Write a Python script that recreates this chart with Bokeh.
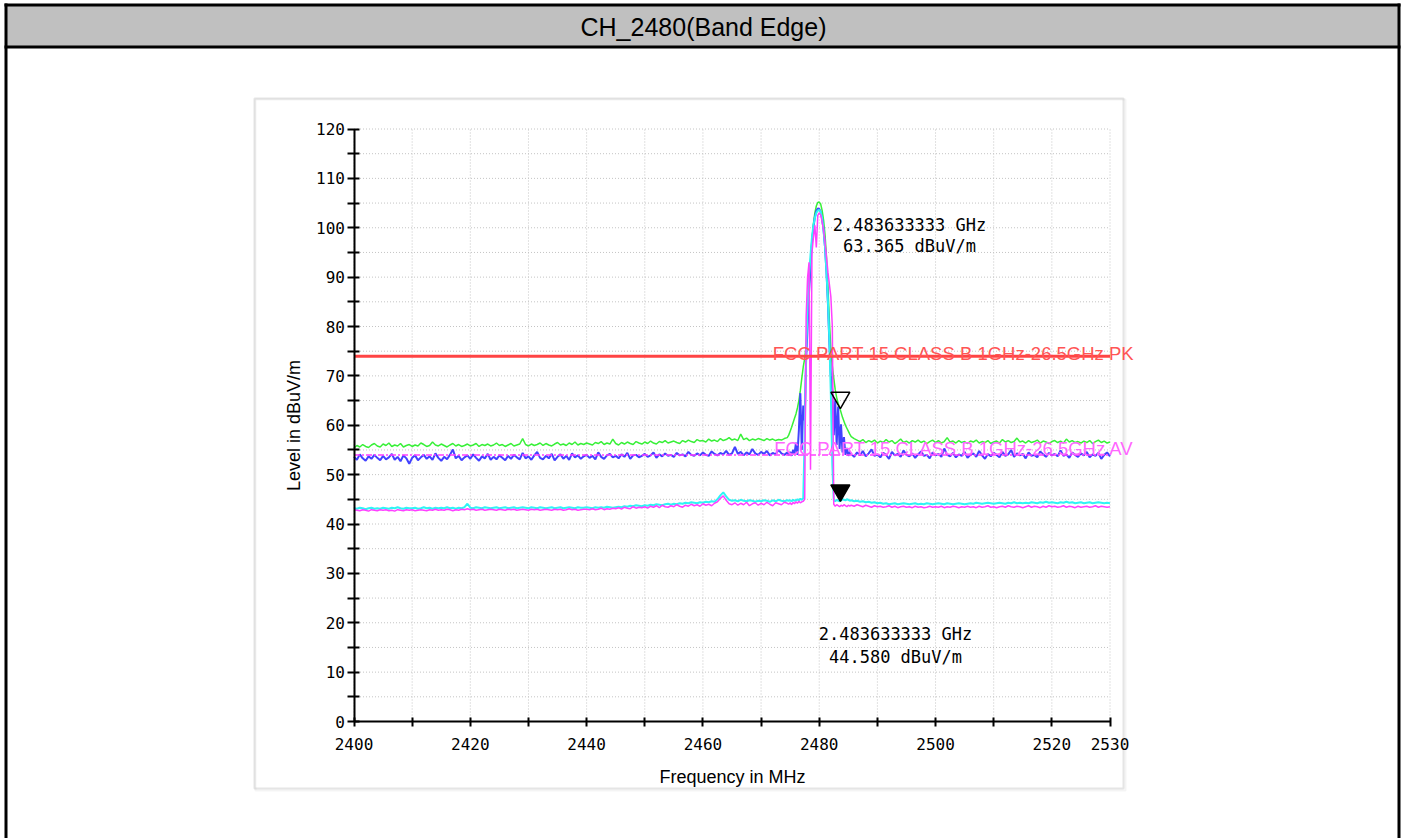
import numpy as np
from bokeh.plotting import figure
from bokeh.models import Range1d, FixedTicker, BoxAnnotation, Label
from bokeh.embed import file_html
from bokeh.resources import INLINE

# ---------------- data ----------------
TITLE = "CH_2480(Band Edge)"
X_LABEL = "Frequency in MHz"
Y_LABEL = "Level in dBuV/m"
X_MIN, X_MAX = 2400, 2530
Y_MIN, Y_MAX = 0, 120
X_TICKS = [2400, 2410, 2420, 2430, 2440, 2450, 2460, 2470, 2480, 2490, 2500, 2510, 2520, 2530]
X_TICK_LABELS = [2400, 2420, 2440, 2460, 2480, 2500, 2520, 2530]
Y_TICKS = [0, 10, 20, 30, 40, 50, 60, 70, 80, 90, 100, 110, 120]
Y_MINOR = [5, 15, 25, 35, 45, 55, 65, 75, 85, 95, 105, 115]

# frequency grids (MHz)
F_LO = 2400.0 + 0.5 * np.arange(150)      # 2400.0 .. 2474.5
F_PK = 2474.75 + 0.25 * np.arange(43)     # 2474.75 .. 2485.25
F_HI = 2485.5 + 0.5 * np.arange(90)       # 2485.5 .. 2530.0

GREEN_LO = [
    55.4, 55.9, 55.6, 56.1, 55.7, 55.5, 56.0, 56.3, 55.8, 55.6,
    56.2, 55.9, 56.4, 55.7, 56.0, 55.8, 56.3, 55.6, 55.9, 56.1,
    55.7, 56.0, 55.8, 56.4, 56.1, 55.7, 55.9, 56.6, 56.0, 55.8,
    56.2, 55.9, 55.6, 56.0, 56.3, 55.8, 56.1, 55.7, 55.9, 56.2,
    55.8, 56.0, 56.3, 55.7, 56.1, 55.9, 56.2, 55.8, 56.0, 56.4,
    55.9, 56.1, 55.7, 56.0, 56.3, 55.8, 56.0, 56.2, 57.3, 56.1,
    55.8, 56.2, 55.9, 56.1, 56.4, 55.9, 56.3, 56.0, 55.8, 56.2,
    56.5, 56.0, 56.2, 55.9, 56.4, 56.1, 56.6, 56.0, 56.3, 56.1,
    56.4, 56.2, 56.0, 56.5, 56.3, 56.7, 56.1, 56.4, 56.2, 57.2,
    56.3, 56.0, 56.5, 56.2, 56.6, 56.3, 56.1, 56.7, 56.4, 56.2,
    56.6, 56.3, 56.8, 56.4, 56.2, 56.7, 56.5, 56.9, 56.4, 56.6,
    56.8, 56.5, 56.3, 56.9, 56.6, 57.0, 56.7, 56.5, 57.1, 56.8,
    56.9, 56.6, 57.2, 56.8, 57.0, 56.7, 57.3, 56.9, 57.1, 57.5,
    57.0, 57.2, 56.9, 58.2, 57.1, 57.4, 56.9, 57.2, 57.0, 57.3,
    57.1, 56.9, 57.3, 57.0, 57.2, 56.9, 57.1, 57.0, 57.3, 57.5,
]
GREEN_PK = [
    58.0, 58.8, 59.6, 60.5, 61.4, 62.3, 63.5, 65.0, 67.0, 69.5,
    71.8, 73.5, 76.0, 82.0, 88.0, 93.0, 97.5, 100.8, 103.0, 104.4,
    105.1, 105.2, 104.8, 103.5, 101.5, 98.5, 94.0, 88.0, 81.0, 75.5,
    72.0, 69.5, 67.2, 65.6, 64.4, 63.6, 62.6, 61.6, 60.8, 60.0,
    59.4, 58.8, 58.2,
]
GREEN_HI = [
    57.7, 57.3, 57.0, 56.7, 57.1, 56.5, 56.9, 56.6, 57.0, 56.4,
    56.8, 56.5, 57.1, 56.6, 56.9, 56.3, 56.7, 57.2, 56.5, 56.8,
    56.4, 56.9, 56.6, 57.0, 56.5, 56.8, 56.3, 56.7, 57.0, 56.5,
    56.9, 56.4, 56.7, 57.5, 56.6, 56.8, 56.4, 56.9, 56.5, 56.7,
    56.3, 56.8, 56.6, 57.0, 56.4, 56.7, 56.5, 56.9, 56.3, 56.6,
    56.8, 56.4, 57.1, 56.6, 56.9, 56.5, 56.7, 57.4, 56.6, 56.8,
    56.4, 56.9, 56.5, 56.7, 57.0, 56.4, 56.8, 56.6, 56.3, 56.7,
    56.9, 56.5, 56.8, 56.4, 57.2, 56.6, 56.9, 56.5, 56.7, 56.4,
    56.8, 56.5, 56.9, 56.3, 56.7, 57.0, 56.5, 56.8, 56.4, 56.6,
]

BLUE_LO = [
    53.6, 53.0, 54.1, 53.3, 52.8, 53.7, 53.2, 54.0, 53.4, 52.9,
    53.8, 53.1, 53.5, 54.2, 53.0, 53.6, 52.7, 53.9, 53.3, 52.2,
    53.4, 53.9, 52.9, 53.5, 54.0, 53.2, 53.7, 53.0, 54.3, 53.4,
    52.8, 53.6, 53.1, 54.0, 55.1, 53.3, 53.8, 52.9, 53.5, 53.9,
    53.2, 54.1, 53.4, 52.8, 53.7, 53.3, 54.2, 53.0, 53.6, 53.1,
    53.9, 53.4, 52.9, 53.8, 53.2, 54.0, 53.5, 53.1, 54.4, 53.3,
    53.7, 53.0, 53.9, 54.6, 53.4, 53.1, 53.8, 53.3, 54.2, 52.9,
    53.6, 54.1, 53.2, 53.8, 53.0, 54.3, 53.5, 53.9, 53.2, 53.7,
    54.0, 53.4, 53.8, 53.1, 54.5, 53.6, 53.2, 53.9, 54.2, 53.5,
    53.8, 53.3, 54.1, 53.6, 54.4, 53.2, 53.9, 54.0, 53.5, 53.8,
    54.2, 53.6, 53.9, 54.5, 53.4, 54.1, 53.7, 54.3, 53.8, 54.0,
    53.6, 54.4, 53.9, 54.1, 53.7, 54.6, 54.0, 53.8, 54.3, 53.9,
    54.5, 54.0, 53.8, 54.7, 54.2, 53.9, 54.4, 54.1, 54.8, 54.0,
    54.3, 55.6, 54.2, 54.6, 53.9, 54.5, 54.1, 55.2, 54.3, 54.0,
    54.6, 54.2, 54.8, 53.9, 54.4, 54.1, 55.0, 54.3, 54.0, 54.5,
]
BLUE_PK = [
    53.9, 54.6, 53.8, 55.0, 54.2, 56.5, 54.0, 59.0, 66.5, 55.0,
    64.0, 61.0, 73.5, 80.0, 87.0, 92.5, 97.0, 100.0, 102.2, 103.4,
    103.9, 103.8, 103.2, 101.8, 99.5, 96.0, 91.0, 84.5, 76.5, 70.0,
    67.0, 58.0, 65.0, 56.0, 63.8, 55.2, 60.2, 54.5, 57.6, 54.0,
    55.4, 53.8, 54.6,
]
BLUE_HI = [
    54.2, 53.6, 54.5, 53.9, 54.8, 53.7, 54.3, 55.1, 53.8, 54.1,
    53.5, 54.4, 54.0, 53.2, 54.6, 53.9, 54.2, 53.6, 54.9, 54.0,
    53.7, 54.3, 53.4, 54.1, 54.7, 53.8, 54.0, 53.3, 54.5, 53.9,
    54.2, 53.6, 55.3, 54.0, 53.7, 54.4, 53.5, 54.1, 53.8, 54.6,
    53.4, 54.0, 54.3, 53.6, 54.8, 53.9, 53.2, 54.2, 53.7, 54.4,
    54.0, 53.5, 54.6, 53.8, 54.1, 55.0, 53.6, 54.3, 53.9, 54.2,
    53.3, 54.5, 53.8, 54.0, 53.5, 54.7, 54.1, 53.6, 54.4, 53.9,
    54.2, 53.7, 54.9, 53.8, 54.1, 53.4, 54.5, 54.0, 53.6, 54.3,
    53.9, 54.6, 53.5, 54.1, 53.8, 54.4, 53.2, 54.0, 54.5, 53.7,
]

CYAN_LO = [
    43.2, 43.1, 43.3, 43.2, 43.0, 43.2, 43.3, 43.1, 43.2, 43.1,
    43.3, 43.2, 43.1, 43.3, 43.2, 43.4, 43.2, 43.1, 43.3, 43.2,
    43.2, 43.3, 43.1, 43.2, 43.4, 43.2, 43.3, 43.1, 43.3, 43.2,
    43.3, 43.2, 43.4, 43.2, 43.3, 43.1, 43.3, 43.2, 43.4, 44.1,
    43.3, 43.2, 43.4, 43.3, 43.2, 43.4, 43.3, 43.2, 43.3, 43.4,
    43.2, 43.3, 43.4, 43.2, 43.3, 43.4, 43.2, 43.3, 43.4, 43.3,
    43.2, 43.4, 43.3, 43.2, 43.4, 43.3, 43.2, 43.3, 43.4, 43.2,
    43.3, 43.4, 43.2, 43.3, 43.4, 43.3, 43.2, 43.4, 43.3, 43.3,
    43.4, 43.3, 43.2, 43.4, 43.3, 43.4, 43.3, 43.5, 43.4, 43.3,
    43.4, 43.5, 43.4, 43.6, 43.5, 43.7, 43.6, 43.8, 43.7, 43.6,
    43.8, 43.7, 43.9, 43.8, 44.0, 43.9, 43.8, 44.0, 44.1, 43.9,
    44.1, 44.0, 44.2, 44.1, 44.3, 44.2, 44.4, 44.3, 44.2, 44.4,
    44.3, 44.5, 44.4, 44.6, 44.5, 45.0, 45.8, 46.4, 45.6, 44.9,
    44.7, 44.8, 44.6, 44.9, 44.7, 44.6, 44.8, 44.7, 44.5, 44.7,
    44.6, 44.8, 44.7, 44.5, 44.8, 44.6, 44.9, 44.7, 44.6, 44.8,
]
CYAN_PK = [
    44.7, 44.8, 44.6, 44.9, 44.7, 44.8, 45.0, 44.8, 45.1, 44.9,
    45.2, 58.0, 75.0, 84.0, 90.0, 94.5, 98.0, 100.5, 102.0, 103.0,
    103.5, 103.6, 103.2, 102.0, 99.5, 96.0, 91.0, 85.0, 77.0, 66.0,
    52.0, 44.8, 44.6, 44.9, 44.7, 44.6, 44.8, 45.0, 44.9, 44.8,
    45.0, 44.9, 44.7,
]
CYAN_HI = [
    44.8, 44.6, 44.7, 44.5, 44.6, 44.4, 44.5, 44.3, 44.4, 44.2,
    44.3, 44.1, 44.2, 44.0, 44.1, 44.2, 44.0, 44.1, 44.2, 44.1,
    44.0, 44.1, 44.2, 44.0, 44.1, 44.0, 44.2, 44.1, 44.0, 44.1,
    44.2, 44.1, 44.0, 44.2, 44.1, 44.0, 44.1, 44.2, 44.1, 44.0,
    44.1, 44.2, 44.1, 44.3, 44.2, 44.1, 44.2, 44.3, 44.2, 44.1,
    44.2, 44.3, 44.2, 44.1, 44.3, 44.2, 44.4, 44.2, 44.3, 44.2,
    44.3, 44.2, 44.4, 44.3, 44.2, 44.4, 44.3, 44.5, 44.3, 44.4,
    44.3, 44.2, 44.4, 44.3, 44.5, 44.3, 44.4, 44.2, 44.3, 44.4,
    44.2, 44.3, 44.4, 44.2, 44.3, 44.4, 44.3, 44.2, 44.3, 44.2,
]

MAGENTA_LO = [
    42.9, 42.8, 42.7, 42.9, 42.8, 42.6, 42.9, 42.8, 42.7, 42.9,
    42.8, 42.9, 42.7, 42.8, 42.6, 42.9, 42.8, 42.7, 42.9, 42.8,
    42.9, 42.7, 42.8, 42.9, 42.8, 42.7, 42.9, 42.8, 43.0, 42.8,
    42.9, 42.8, 43.0, 42.9, 42.7, 42.9, 42.8, 43.0, 42.9, 43.1,
    42.9, 43.0, 42.8, 42.9, 43.0, 42.8, 42.9, 43.0, 42.9, 42.8,
    43.0, 42.9, 42.8, 43.0, 42.9, 43.0, 42.8, 42.9, 43.0, 42.9,
    42.8, 43.0, 42.9, 43.0, 42.8, 42.9, 43.0, 42.9, 42.8, 43.0,
    42.9, 43.0, 42.8, 42.9, 43.1, 42.9, 43.0, 42.8, 42.9, 43.0,
    43.0, 42.9, 43.1, 42.9, 43.0, 43.2, 42.9, 43.1, 43.0, 43.2,
    43.1, 43.3, 43.0, 43.4, 43.2, 43.1, 43.5, 43.2, 43.4, 43.3,
    43.5, 43.2, 43.6, 43.4, 43.7, 43.3, 43.8, 43.5, 43.4, 43.7,
    43.5, 43.9, 43.6, 43.4, 43.8, 43.6, 44.0, 43.7, 43.9, 43.6,
    44.1, 43.8, 44.0, 43.7, 44.2, 44.5, 45.2, 45.7, 44.8, 44.1,
    43.9, 44.3, 43.8, 44.2, 43.9, 44.4, 43.7, 44.1, 44.3, 43.8,
    44.2, 43.9, 44.4, 44.0, 43.7, 44.3, 44.1, 43.9, 44.4, 44.2,
]
MAGENTA_PK = [
    44.0, 44.3, 43.9, 44.4, 44.1, 44.5, 44.2, 44.6, 44.3, 44.5,
    44.6, 45.0, 82.0, 90.0, 93.0, 51.0, 95.0, 98.0, 100.5, 96.0,
    102.5, 103.0, 102.6, 101.2, 99.5, 97.0, 94.0, 91.0, 88.5, 86.0,
    80.0, 44.0, 43.6, 43.9, 43.7, 43.5, 43.8, 43.6, 43.9, 43.7,
    43.5, 43.8, 43.6,
]
MAGENTA_HI = [
    43.8, 43.6, 43.9, 43.7, 43.5, 43.8, 43.6, 43.4, 43.7, 43.5,
    43.6, 43.4, 43.5, 43.7, 43.4, 43.6, 43.3, 43.5, 43.6, 43.4,
    43.5, 43.3, 43.6, 43.4, 43.5, 43.3, 43.4, 43.6, 43.4, 43.5,
    43.4, 43.6, 43.3, 43.5, 43.4, 43.6, 43.5, 43.3, 43.5, 43.4,
    43.6, 43.4, 43.5, 43.3, 43.6, 43.4, 43.5, 43.7, 43.4, 43.5,
    43.3, 43.5, 43.6, 43.4, 43.7, 43.5, 43.4, 43.6, 43.5, 43.3,
    43.5, 43.7, 43.4, 43.6, 43.5, 43.3, 43.6, 43.4, 43.7, 43.5,
    43.6, 43.4, 43.5, 43.7, 43.4, 43.6, 43.5, 43.3, 43.6, 43.4,
    43.5, 43.6, 43.4, 43.5, 43.7, 43.4, 43.6, 43.5, 43.4, 43.5,
]

LIMIT_PK = 74.0
LIMIT_AV = 54.0
LIMIT_PK_LABEL = "FCC PART 15 CLASS B 1GHz-26.5GHz PK"
LIMIT_AV_LABEL = "FCC PART 15 CLASS B 1GHz-26.5GHz AV"

MARKER_FREQ = [2483.633333, 2483.633333]
MARKER_LEVEL = [63.365, 44.580]
MARKER_TEXT = [("2.483633333 GHz", "63.365 dBuV/m"), ("2.483633333 GHz", "44.580 dBuV/m")]

# ---------------- layout (canvas pixels) ----------------
W, H = 1403, 838
PX_X0, PX_X1 = 353.5, 1109.5     # where X_MIN / X_MAX sit
PX_Y0, PX_Y1 = 721.0, 128.5      # where Y_MIN / Y_MAX sit
ppx = (PX_X1 - PX_X0) / (X_MAX - X_MIN)
ppy = (PX_Y0 - PX_Y1) / (Y_MAX - Y_MIN)
xr = Range1d(X_MIN - PX_X0 / ppx, X_MAX + (W - PX_X1) / ppx)
yr = Range1d(Y_MIN - (H - PX_Y0) / ppy, Y_MAX + PX_Y1 / ppy)

p = figure(width=W, height=H, x_range=xr, y_range=yr,
           min_border=0, min_border_left=0, min_border_right=0,
           min_border_top=0, min_border_bottom=0,
           output_backend="svg", toolbar_location=None, title=None)
p.outline_line_color = None
p.background_fill_color = "white"
p.border_fill_color = "white"
p.xgrid.visible = False
p.ygrid.visible = False

MONO = "DejaVu Sans Mono"
SANS = "Liberation Sans"


def canvas_box(l, r, t, b, **kw):
    return BoxAnnotation(left=l, right=r, top=t, bottom=b,
                         left_units="canvas", right_units="canvas",
                         top_units="canvas", bottom_units="canvas", **kw)


# decorations: chart panel, title bar, outer frame
p.add_layout(canvas_box(255, 1125, 99, 790, fill_color=None, fill_alpha=0,
                        line_color="#DADADA", line_width=2, level="underlay"))
p.add_layout(canvas_box(254, 1123, 98, 788, fill_color=None, fill_alpha=0,
                        line_color="#A8A8A8", line_width=2, level="underlay"))
p.add_layout(canvas_box(6, 1398, 5, 47, fill_color="#C0C0C0", fill_alpha=1,
                        line_color=None, level="underlay"))
for (l, r, t, b) in [(4, 1400, 3, 6), (4, 1400, 45, 48), (4, 7, 3, H), (1397, 1400, 3, H)]:
    p.add_layout(canvas_box(l, r, t, b, fill_color="black", fill_alpha=1, line_color=None))
p.add_layout(Label(x=703, y=26, x_units="canvas", y_units="canvas", text=TITLE,
                   text_align="center", text_baseline="middle",
                   text_font=SANS, text_font_size="25px", text_color="black"))

# grid (dotted) at the tick positions, inside the chart area only
p.segment(x0=X_TICKS, y0=[Y_MIN] * len(X_TICKS), x1=X_TICKS, y1=[Y_MAX] * len(X_TICKS),
          line_color="#C4C4C4", line_width=1, line_dash="1 2")
YG = Y_TICKS + Y_MINOR
p.segment(x0=[X_MIN] * len(YG), y0=YG, x1=[X_MAX] * len(YG), y1=YG,
          line_color="#C4C4C4", line_width=1, line_dash="1 2")

# axes, fixed at the chart's origin
xa = p.xaxis[0]
ya = p.yaxis[0]
xa.fixed_location = Y_MIN
ya.fixed_location = X_MIN
xa.bounds = (X_MIN, X_MAX)
ya.bounds = (Y_MIN, Y_MAX)
xa.ticker = FixedTicker(ticks=X_TICKS)
xa.major_label_overrides = {t: "" for t in X_TICKS if t not in X_TICK_LABELS}
ya.ticker = FixedTicker(ticks=Y_TICKS, minor_ticks=Y_MINOR)
for ax in (xa, ya):
    ax.axis_line_color = "black"
    ax.axis_line_width = 2
    ax.major_tick_line_color = "black"
    ax.major_tick_line_width = 2
    ax.minor_tick_line_color = "black"
    ax.minor_tick_line_width = 2
    ax.major_label_text_font = MONO
    ax.major_label_text_font_size = "16px"
    ax.major_label_text_color = "black"
    ax.axis_label_text_font = SANS
    ax.axis_label_text_font_size = "18px"
    ax.axis_label_text_font_style = "normal"
    ax.axis_label_text_color = "black"
xa.axis_label = X_LABEL
ya.axis_label = Y_LABEL
xa.major_tick_out, xa.major_tick_in = 5, 4
xa.major_label_standoff = 11
xa.axis_label_standoff = 14
ya.major_tick_out, ya.major_tick_in = 7, 5
ya.minor_tick_out, ya.minor_tick_in = 7, 5
ya.major_label_standoff = 2
ya.axis_label_standoff = 10

# traces
F_ALL = np.concatenate([F_LO, F_PK, F_HI])
traces = [
    (GREEN_LO, GREEN_PK, GREEN_HI, "#38F038", 1.5),
    (BLUE_LO, BLUE_PK, BLUE_HI, "#4242FF", 2),
    (CYAN_LO, CYAN_PK, CYAN_HI, "#30F4F4", 2),
    (MAGENTA_LO, MAGENTA_PK, MAGENTA_HI, "#FF40FF", 1.5),
]
for lo, pk, hi, col, lw in traces:
    lv = np.concatenate([lo, pk, hi])
    n = min(len(lv), len(F_ALL))
    p.line(F_ALL[:n], lv[:n], line_color=col, line_width=lw)

# limit lines
p.line([X_MIN, X_MAX], [LIMIT_PK, LIMIT_PK], line_color="#FF4444", line_width=3)
p.line([X_MIN, X_MAX], [LIMIT_AV, LIMIT_AV], line_color="#FF40FF", line_width=1.5,
       line_dash="6 2 2 2")
p.add_layout(Label(x=X_MAX, y=LIMIT_PK, text=LIMIT_PK_LABEL, text_align="right",
                   text_baseline="alphabetic", x_offset=24, y_offset=3,
                   text_font=SANS, text_font_size="18.5px", text_color="#FF5555"))
p.add_layout(Label(x=X_MAX, y=LIMIT_AV, text=LIMIT_AV_LABEL, text_align="right",
                   text_baseline="alphabetic", x_offset=24, y_offset=6,
                   text_font=SANS, text_font_size="18.5px", text_color="#FF66FF"))

# markers (tip of the triangle at the marker level)
tri = 19
dy = (tri * 0.866 * 2 / 3) / ppy
p.scatter([MARKER_FREQ[0]], [MARKER_LEVEL[0] + dy], marker="inverted_triangle", size=tri,
          fill_color=None, line_color="black", line_width=1.5)
p.scatter([MARKER_FREQ[1]], [MARKER_LEVEL[1] + dy], marker="inverted_triangle", size=tri,
          fill_color="black", line_color="black", line_width=1.5)

# marker readouts
TXT_POS = [((909, 224), (909, 245)), ((895, 633), (895, 656))]
for (l1, l2), ((x1, y1), (x2, y2)) in zip(MARKER_TEXT, TXT_POS):
    for t, (xx, yy) in ((l1, (x1, y1)), (l2, (x2, y2))):
        p.add_layout(Label(x=xx, y=yy, x_units="canvas", y_units="canvas", text=t,
                           text_align="center", text_baseline="middle",
                           text_font=MONO, text_font_size="17px", text_color="black"))

open("out.html", "w").write(file_html(p, INLINE))
